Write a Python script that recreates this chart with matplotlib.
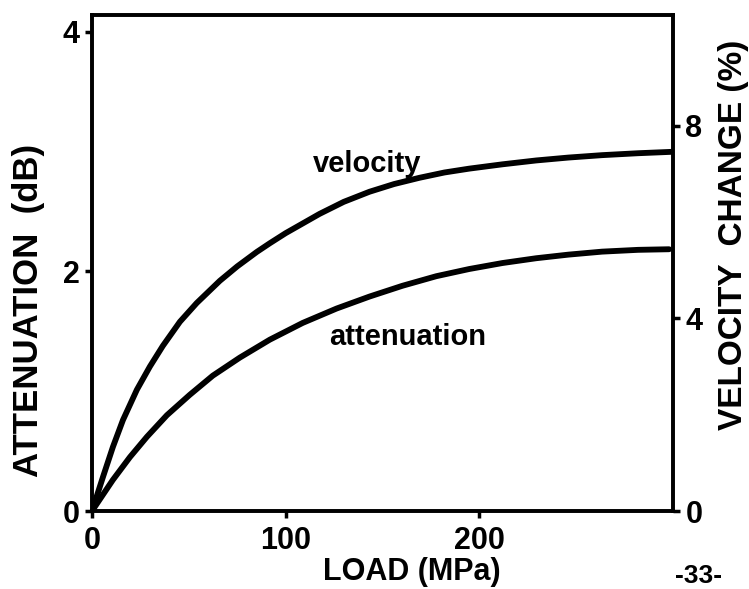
import matplotlib
matplotlib.use("Agg")
import matplotlib.pyplot as plt
from matplotlib import font_manager

# load (MPa) vs velocity change (%) and attenuation (dB)
load_vel = [0, 5.7, 10.8, 16.0, 23.2, 29.9, 36.6, 45.4, 54.1, 66.0, 75.0, 85.1,
            91.8, 100, 117.5, 130, 143.3, 156, 169.1, 182, 194.8, 212, 229.4,
            246, 263.4, 282, 300]
velocity = [0, 0.71, 1.33, 1.89, 2.52, 3.00, 3.43, 3.93, 4.32, 4.78, 5.08, 5.38,
            5.56, 5.77, 6.17, 6.42, 6.63, 6.79, 6.92, 7.03, 7.11, 7.20, 7.28,
            7.34, 7.39, 7.43, 7.46]

load_att = [0, 10.8, 19.6, 28.4, 38.7, 50.5, 62.4, 76.3, 91.8, 108.8, 126.3,
            143.3, 160.3, 177.8, 194.8, 212, 229.4, 246, 263.4, 282, 298]
attenuation = [0, 0.26, 0.45, 0.62, 0.80, 0.97, 1.13, 1.28, 1.43, 1.57, 1.69,
               1.79, 1.88, 1.96, 2.02, 2.07, 2.11, 2.14, 2.165, 2.18, 2.185]

x_ticks = [0, 100, 200]
att_ticks = [0, 2, 4]
vel_ticks = [0, 4, 8]


def pick_font(names):
    avail = set(f.name for f in font_manager.fontManager.ttflist)
    for n in names:
        if n in avail:
            return n
    return "DejaVu Sans"


narrow = pick_font(["Liberation Sans Narrow", "DejaVu Sans Condensed", "Liberation Sans"])
plt.rcParams["font.family"] = narrow
plt.rcParams["font.weight"] = "bold"

fig = plt.figure(figsize=(7.49, 5.89), dpi=100)
ax = fig.add_axes([0.1228, 0.1324, 0.7757, 0.8421])
ax2 = ax.twinx()

ax.plot(load_att, attenuation, color="black", lw=4.2,
        solid_capstyle="round", solid_joinstyle="round")
ax2.plot(load_vel, velocity, color="black", lw=4.2,
         solid_capstyle="round", solid_joinstyle="round")

ax.set_xlim(0, 300)
ax.set_ylim(0, 4.14)
ax2.set_ylim(0, 10.3)

ax.set_xticks(x_ticks)
ax.set_yticks(att_ticks)
ax2.set_yticks(vel_ticks)

for a in (ax, ax2):
    for s in a.spines.values():
        s.set_linewidth(2.6)
    a.tick_params(direction="out", length=5, width=2.5, labelsize=22, pad=4)

ax.tick_params(axis="x", pad=6)

ax.set_xlabel("LOAD (MPa)", fontsize=22, fontweight="bold")
ax.xaxis.set_label_coords(0.55, -0.093)
ax.set_ylabel("ATTENUATION  (dB)", fontsize=25, fontweight="bold")
ax.yaxis.set_label_coords(-0.081, 0.405)
ax2.set_ylabel("VELOCITY  CHANGE (%)", fontsize=24, fontweight="bold")
ax2.yaxis.set_label_coords(1.077, 0.556)

ax.text(142, 2.9, "velocity", fontsize=21, fontweight="bold", ha="center", va="center")
ax.text(163, 1.45, "attenuation", fontsize=21, fontweight="bold", ha="center", va="center")

fig.text(0.932, 0.002, "-33-", fontsize=19, ha="center", va="bottom")

fig.savefig("out.png", dpi=100, facecolor="white")
